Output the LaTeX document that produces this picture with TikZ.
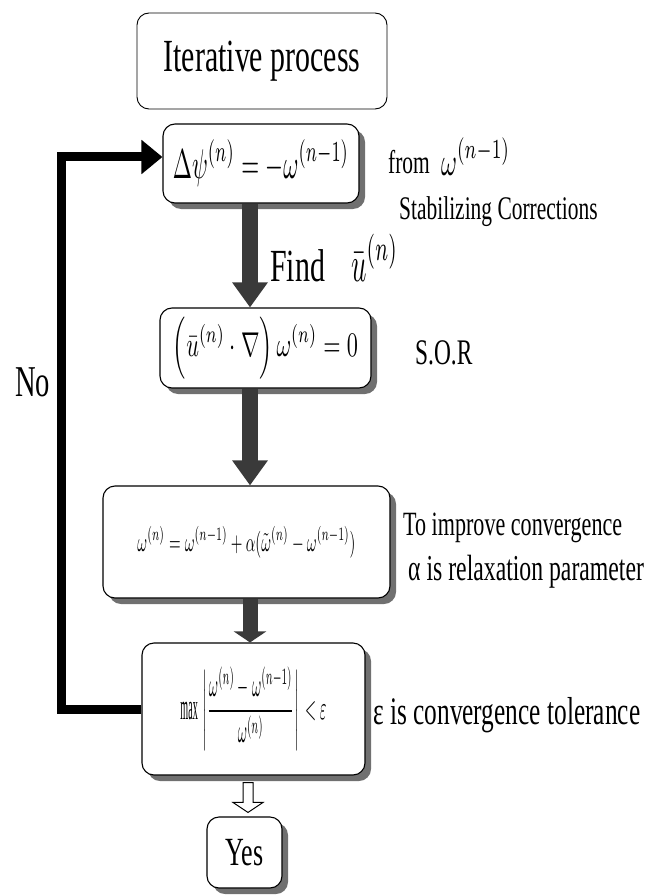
\documentclass[tikz,border=0pt]{standalone}
\usepackage{amsmath}
\usepackage{graphicx}
\usepackage{fontspec}
\setmainfont{Liberation Serif}[FakeStretch=0.65]
\usetikzlibrary{arrows.meta,shadows,calc}
\definecolor{flowdark}{HTML}{3A3A3A}
\definecolor{flowshadow}{HTML}{707070}
\newcommand{\fsz}[1]{\fontsize{#1}{#1}\selectfont}
\newcommand{\fitmath}[3]{\resizebox*{#1pt}{#2pt}{$\displaystyle #3$}}

\begin{document}
\begin{tikzpicture}[
    x=1pt, y=-1pt,
    box/.style={draw=black, line width=1.1pt, rounded corners=12pt, fill=white, inner sep=0pt},
    shadowed/.style={box, drop shadow={shadow xshift=6pt, shadow yshift=-6pt, fill=flowshadow, opacity=1}},
    txt/.style={inner sep=0pt, anchor=base west},
    mth/.style={inner sep=0pt, anchor=north west},
    bigarrow/.style={draw=flowdark, line width=16pt, -{Triangle[width=34pt,length=25pt]}},
    midarrow/.style={draw=flowdark, line width=15pt, -{Triangle[width=32pt,length=11pt]}},
    hollow/.style={draw=black, line width=1pt, fill=white, line join=miter},
    feedback/.style={draw=black, line width=9pt, -{Triangle[width=33pt,length=21pt]}},
  ]
  \useasboundingbox (0,0) rectangle (659,896);

  % ================= boxes of the loop
  \node[box, line width=0.9pt, minimum width=250pt, minimum height=96pt] (title) at (262,61)
    {\fsz{46}Iterative process};
  \node[shadowed, minimum width=196pt, minimum height=79pt] (psi) at (261,163.5)
    {\fitmath{176}{47}{\Delta\psi^{(n)}=-\omega^{(n-1)}}};
  \node[shadowed, minimum width=211pt, minimum height=80pt] (uvel) at (265.5,348)
    {\fitmath{185}{62}{\left(\bar{u}^{(n)}\cdot\nabla\right)\omega^{(n)}=0}};
  \node[shadowed, minimum width=287pt, minimum height=112pt] (relax) at (246.5,542)
    {\fitmath{218}{32}{\omega^{(n)}=\omega^{(n-1)}+\alpha(\tilde{\omega}^{(n)}-\omega^{(n-1)})}};
  \node[shadowed, minimum width=223pt, minimum height=132pt] (conv) at (253.5,709)
    {\fitmath{146}{84}{\text{\fsz{11}max}\,\left|\frac{\omega^{(n)}-\omega^{(n-1)}}{\omega^{(n)}}\right|\,<\varepsilon}};
  \node[shadowed, minimum width=75pt, minimum height=71pt] (yes) at (244.5,852.5)
    {\fsz{40}Yes};

  % ================= side notes
  \node[txt] (from) at (388,174) {\fsz{33}from};
  \node[mth] (fromw) at (441,138) {\fitmath{69}{37}{\omega^{(n-1)}}};
  \node[txt] (stab) at (399,219) {\fsz{33}Stabilizing Corrections};
  \node[txt] (find) at (270,281) {\fsz{46}Find};
  \node[mth] (ubar) at (351,234) {\fitmath{47}{47}{\bar{u}^{(n)}}};
  \node[txt] (sor) at (415,364) {\fsz{36}S.O.R};
  \node[txt] (impr) at (403,535) {\fsz{34}To improve convergence};
  \node[txt] (alpha) at (408,580) {\fsz{36.5}α is relaxation parameter};
  \node[txt] (eps) at (373,724) {\fsz{39}ε is convergence tolerance};
  \node[txt] (no) at (15,396) {\fsz{44}No};

  % ================= downward arrows
  \coordinate (axis) at (250,0);
  \draw[bigarrow] (psi.south -| axis) -- (uvel.north -| axis);
  \draw[bigarrow] (uvel.south -| axis) -- (relax.north -| axis);
  \draw[midarrow] (relax.south -| axis) -- (conv.north -| axis);
  % open arrow down to Yes
  \path (conv.south -| axis) ++(-2,7) coordinate (h0);
  \path (yes.north -| axis) ++(-2,-4) coordinate (h1);
  \draw[hollow] ($(h0)+(-5,0)$) -- ($(h1)+(-5,-10)$) -- ($(h1)+(-15,-10)$) -- (h1)
    -- ($(h1)+(15,-10)$) -- ($(h1)+(5,-10)$) -- ($(h0)+(5,0)$) -- cycle;

  % ================= feedback "No" loop
  \coordinate (fb) at (61,157);
  \draw[feedback] (conv.west) -| (fb) -- (fb -| psi.west);
\end{tikzpicture}
\end{document}
